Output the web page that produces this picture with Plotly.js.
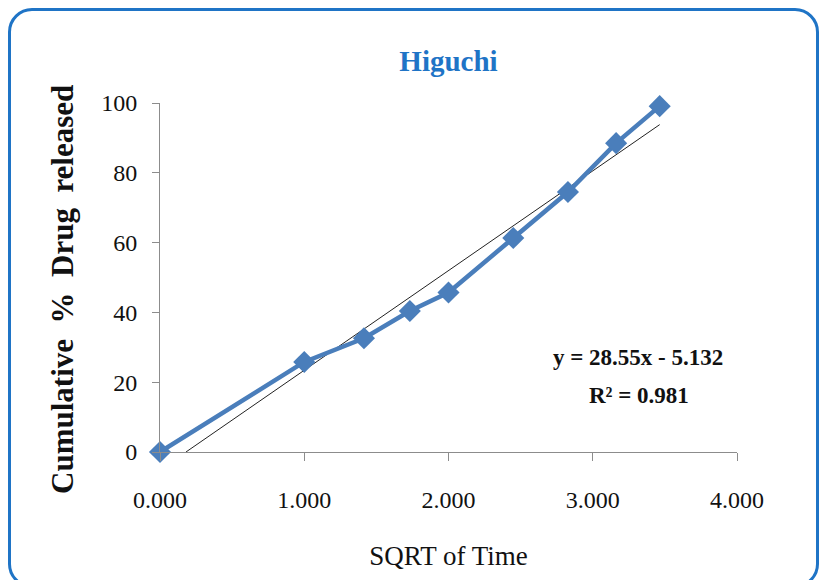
<!DOCTYPE html>
<html>
<head>
<meta charset="utf-8">
<script src="https://cdn.plot.ly/plotly-3.0.1.min.js"></script>
<style>
  html, body { margin: 0; padding: 0; background: #fff; }
  #wrap { position: relative; width: 827px; height: 580px; overflow: hidden; }
  #frame { position: absolute; left: 8px; top: 8px; width: 811px; height: 580px;
           border: 3px solid #1f74c6; border-radius: 24px; box-sizing: border-box; }
  #chart { position: absolute; left: 0; top: 0; width: 827px; height: 580px; }
</style>
</head>
<body>
<div id="wrap">
  <div id="frame"></div>
  <div id="chart"></div>
</div>
<script>
// Data
const sqrtTime = [0, 1.000, 1.414, 1.732, 2.000, 2.449, 2.828, 3.162, 3.464];
const cumRelease = [0, 25.8, 32.6, 40.4, 45.7, 61.3, 74.5, 88.5, 99.1];
// Linear trendline endpoints (as drawn in the reference)
const trendX = [0.18, 3.464];
const trendY = [0, 93.8];
const xTickVals = [0, 1, 2, 3, 4];
const xTickText = ["0.000", "1.000", "2.000", "3.000", "4.000"];
const yTickVals = [0, 20, 40, 60, 80, 100];
const eqLine1 = "y = 28.55x - 5.132";
const eqLine2 = "R² = 0.981";

const serif = '"Liberation Serif", "Times New Roman", serif';

const traces = [
  {
    x: trendX, y: trendY, type: 'scatter', mode: 'lines',
    line: { color: '#222222', width: 1 }, hoverinfo: 'skip', showlegend: false,
    cliponaxis: false
  },
  {
    x: sqrtTime, y: cumRelease, type: 'scatter', mode: 'lines+markers',
    line: { color: '#4a7ebb', width: 4.5 },
    marker: { symbol: 'diamond', size: 17, color: '#4a7ebb' },
    showlegend: false, cliponaxis: false
  }
];

const layout = {
  width: 827, height: 580,
  paper_bgcolor: 'rgba(0,0,0,0)', plot_bgcolor: 'rgba(0,0,0,0)',
  margin: { l: 160, r: 90, t: 103, b: 128 },
  showlegend: false,
  title: {
    text: '<b>Higuchi</b>',
    font: { family: serif, size: 29, color: '#1f74c6' },
    x: 0.5, xref: 'paper', y: 1 - 61 / 580, yanchor: 'middle'
  },
  xaxis: {
    range: [0, 4], tickvals: xTickVals, ticktext: xTickText,
    showgrid: false, zeroline: false,
    showline: true, linecolor: '#8c8c8c', linewidth: 1,
    ticks: 'outside', ticklen: 8, tickcolor: '#8c8c8c',
    tickfont: { family: serif, size: 24, color: '#111' },
    ticklabelstandoff: 18,
    title: { text: 'SQRT of Time', font: { family: serif, size: 27, color: '#111' }, standoff: 34 }
  },
  yaxis: {
    range: [0, 100], tickvals: yTickVals,
    showgrid: false, zeroline: false,
    showline: true, linecolor: '#8c8c8c', linewidth: 1,
    ticks: 'outside', ticklen: 7, tickcolor: '#8c8c8c',
    tickfont: { family: serif, size: 24, color: '#111' },
    ticklabelstandoff: 10
  },
  annotations: [
    { text: '<b>Cumulative  %  Drug  released</b>', xref: 'paper', yref: 'paper',
      x: (62 - 160) / 577, y: (452 - 290) / 349, textangle: -90,
      showarrow: false, xanchor: 'center', yanchor: 'middle',
      font: { family: serif, size: 31, color: '#111' } },
    { text: '<b>' + eqLine1 + '</b>', xref: 'paper', yref: 'paper', x: (638 - 160) / 577, y: (452 - 357) / 349,
      showarrow: false, xanchor: 'center', yanchor: 'middle', font: { family: serif, size: 23, color: '#111' } },
    { text: '<b>' + eqLine2 + '</b>', xref: 'paper', yref: 'paper', x: (639 - 160) / 577, y: (452 - 395) / 349,
      showarrow: false, xanchor: 'center', yanchor: 'middle', font: { family: serif, size: 23, color: '#111' } }
  ]
};

Plotly.newPlot('chart', traces, layout, { displayModeBar: false, staticPlot: true });
</script>
</body>
</html>
